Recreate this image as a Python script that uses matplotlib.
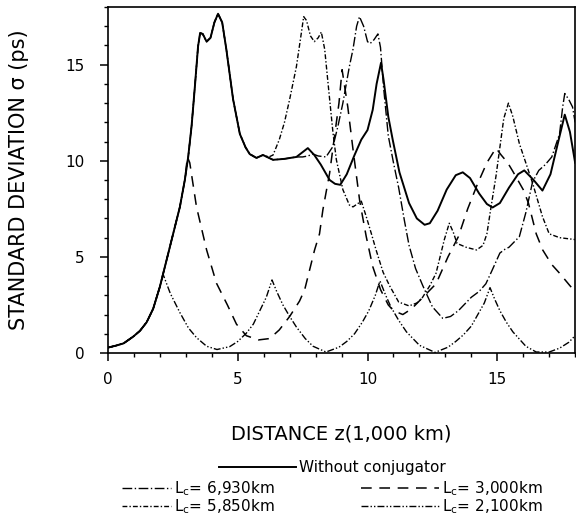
import numpy as np
import matplotlib
matplotlib.use("Agg")
import matplotlib.pyplot as plt

# values (z in 1,000 km, sigma in ps)
# without conjugator
z_solid = [0, 0.3, 0.6, 0.97, 1.23, 1.49, 1.74, 2.0, 2.12, 2.26, 2.51, 2.77, 2.96, 3.09, 3.22,
           3.35, 3.47, 3.55, 3.65, 3.8, 3.95, 4.1, 4.24, 4.4, 4.56, 4.82, 5.08, 5.3, 5.46,
           5.72, 5.97, 6.36, 6.8, 7.26, 7.5, 7.7, 7.95, 8.2, 8.54, 8.75, 8.95, 9.2, 9.5, 9.76,
           10.0, 10.2, 10.35, 10.52, 10.62, 10.8, 10.97, 11.23, 11.6, 11.9, 12.2, 12.4, 12.7,
           13.05, 13.4, 13.67, 13.95, 14.3, 14.6, 14.82, 15.1, 15.45, 15.8, 16.04, 16.4,
           16.74, 17.05, 17.35, 17.6, 17.8, 18.0]
s_solid = [0.28, 0.38, 0.5, 0.85, 1.15, 1.6, 2.3, 3.45, 4.1, 4.85, 6.2, 7.6, 9.0, 10.2, 11.8,
           13.9, 15.95, 16.65, 16.6, 16.2, 16.4, 17.2, 17.65, 17.2, 15.8, 13.2, 11.4, 10.7, 10.35,
           10.15, 10.3, 10.05, 10.1, 10.2, 10.45, 10.66, 10.3, 9.8, 9.0, 8.8, 8.75, 9.3, 10.3, 11.1,
           11.6, 12.65, 14.0, 15.1, 14.2, 12.3, 11.1, 9.4, 7.8, 7.0, 6.67, 6.75, 7.4,
           8.5, 9.25, 9.4, 9.1, 8.3, 7.75, 7.57, 7.8, 8.6, 9.3, 9.5, 9.0,
           8.45, 9.3, 11.0, 12.4, 11.5, 9.9]

# Lc = 6,930 km, after it leaves the solid curve
z_6930 = [7.5, 7.7, 7.9, 8.1, 8.4, 8.67, 8.86, 9.05, 9.3, 9.44, 9.58, 9.69, 9.85, 10.0, 10.1,
          10.25, 10.4, 10.5, 10.62, 10.8, 11.0, 11.2, 11.42, 11.6, 11.85, 12.13, 12.5, 12.9,
          13.2, 13.5, 14.0, 14.3, 14.56, 14.8, 15.1, 15.3, 15.45, 15.85, 16.1, 16.36, 16.6,
          16.85, 17.1, 17.4, 17.52, 17.6, 17.75, 17.9, 18.0]
s_6930 = [10.2, 10.25, 10.35, 10.25, 10.2, 10.75, 11.8, 13.0, 14.9, 15.8, 17.0, 17.5, 17.0, 16.2, 16.1,
          16.3, 16.6, 15.9, 13.8, 11.3, 9.9, 8.6, 6.9, 5.6, 4.4, 3.5, 2.4, 1.8,
          1.9, 2.2, 2.9, 3.2, 3.6, 4.3, 5.2, 5.4, 5.5, 6.05, 7.3, 8.9, 9.5,
          9.8, 10.2, 11.4, 12.8, 13.5, 13.2, 12.8, 12.0]

# Lc = 5,850 km, after it leaves the solid curve
z_5850 = [6.2, 6.36, 6.6, 6.8, 7.0, 7.26, 7.45, 7.54, 7.65, 7.8, 7.95, 8.1, 8.22, 8.35, 8.54,
          8.67, 8.8, 9.05, 9.3, 9.44, 9.6, 9.76, 9.95, 10.15, 10.33, 10.6, 10.85, 11.2, 11.6,
          11.9, 12.1, 12.4, 12.64, 12.96, 13.15, 13.3, 13.45, 13.8, 14.2, 14.45, 14.6, 14.76,
          14.95, 15.1, 15.25, 15.43, 15.6, 15.85, 16.36, 16.74, 17.0, 17.4, 18.0]
s_5850 = [10.2, 10.3, 11.1, 12.0, 13.2, 14.9, 16.65, 17.5, 17.3, 16.5, 16.2, 16.4, 16.7, 15.8, 13.2,
          11.45, 10.05, 8.5, 7.7, 7.6, 7.75, 7.9, 7.1, 6.2, 5.36, 4.2, 3.5, 2.65, 2.45,
          2.6, 2.85, 3.5, 4.15, 5.9, 6.75, 6.3, 5.7, 5.5, 5.36, 5.6, 6.2, 7.6,
          9.2, 10.7, 12.2, 13.0, 12.3, 10.9, 8.84, 7.1, 6.2, 6.0, 5.9]

# Lc = 3,000 km, after it leaves the solid curve
z_3000 = [3.06, 3.15, 3.41, 3.8, 4.18, 4.6, 4.95, 5.33, 5.8, 6.23, 6.6, 7.0, 7.38, 7.58,
          7.96, 8.15, 8.28, 8.54, 8.75, 8.9, 9.02, 9.24, 9.44, 9.7, 9.95, 10.2, 10.5, 10.8,
          11.0, 11.36, 11.7, 12.1, 12.64, 13.1, 13.5, 13.86, 14.24, 14.6, 14.95, 15.15,
          15.4, 15.6, 16.0, 16.2, 16.5, 16.75, 17.1, 17.4, 17.8, 18.0]
s_3000 = [10.2, 9.9, 7.6, 5.36, 3.63, 2.5, 1.5, 0.9, 0.68, 0.75, 1.2, 1.9, 2.7, 3.3,
          5.36, 6.2, 7.45, 9.36, 11.5, 13.0, 14.74, 12.8, 10.6, 7.9, 6.06, 4.5, 3.3, 2.5,
          2.2, 2.0, 2.3, 2.85, 3.6, 5.0, 6.05, 7.5, 8.8, 9.9, 10.66, 10.3,
          9.9, 9.45, 8.5, 7.8, 6.2, 5.36, 4.6, 4.15, 3.5, 3.2]

# Lc = 2,100 km, after it leaves the solid curve
z_2100 = [2.12, 2.4, 2.77, 3.1, 3.41, 3.8, 4.2, 4.69, 5.0, 5.33, 5.6, 5.85, 6.1, 6.32, 6.5,
          6.74, 7.0, 7.26, 7.6, 7.9, 8.4, 8.9, 9.2, 9.5, 9.8, 10.05, 10.3, 10.48, 10.7, 10.9,
          11.2, 11.5, 12.0, 12.6, 13.1, 13.4, 13.7, 14.0, 14.25, 14.5, 14.72, 14.9, 15.1,
          15.35, 15.6, 16.1, 16.5, 17.0, 17.4, 17.75, 18.0]
s_2100 = [4.1, 3.1, 2.1, 1.3, 0.8, 0.35, 0.18, 0.33, 0.6, 1.03, 1.5, 2.2, 2.9, 3.8, 3.2,
          2.5, 1.9, 1.35, 0.75, 0.35, 0.05, 0.3, 0.6, 1.0, 1.6, 2.2, 3.0, 3.75, 3.0, 2.4,
          1.7, 1.1, 0.4, 0.03, 0.3, 0.6, 0.95, 1.4, 2.0, 2.6, 3.4, 2.8, 2.2,
          1.6, 1.1, 0.35, 0.05, 0.05, 0.25, 0.55, 0.9]


def with_start(z_after, s_after):
    # every conjugator curve runs on the solid one until it leaves it
    zs = [z for z in z_solid if z < z_after[0]]
    ss = s_solid[:len(zs)]
    return zs + z_after, ss + s_after


fig = plt.figure(figsize=(5.76, 5.21), dpi=100)
ax = fig.add_axes([0.1875, 0.3225, 0.811, 0.664])

l_6930, = ax.plot(*with_start(z_6930, s_6930), color="black", lw=1.0, ls=(0, (7, 1.8, 1, 1.8)))
l_5850, = ax.plot(*with_start(z_5850, s_5850), color="black", lw=1.0, ls=(0, (3.5, 1.5, 1, 1.5)))
l_3000, = ax.plot(*with_start(z_3000, s_3000), color="black", lw=1.1, ls=(0, (7, 5)))
l_2100, = ax.plot(*with_start(z_2100, s_2100), color="black", lw=1.0, ls=(0, (5, 1.5, 1, 1.5, 1, 1.5)))
l_solid, = ax.plot(z_solid, s_solid, color="black", lw=1.4, ls="-")

ax.set_xlim(0, 18)
ax.set_ylim(0, 18)
ax.set_xticks([0, 5, 10, 15])
ax.set_yticks([0, 5, 10, 15])
ax.set_xticks(np.arange(0, 19, 1), minor=True)
ax.set_yticks(np.arange(0, 19, 1), minor=True)
ax.tick_params(which="major", direction="out", length=6, width=1.1, labelsize=11, pad=8)
ax.tick_params(which="minor", direction="out", length=3, width=1.0)
ax.tick_params(axis="y", which="major", pad=11)
for sp in ax.spines.values():
    sp.set_linewidth(1.2)

ax.set_ylabel("STANDARD DEVIATION σ (ps)", fontsize=15, labelpad=26)
ax.set_xlabel("DISTANCE z(1,000 km)", fontsize=14, labelpad=27)

fig.legend([l_solid], ["Without conjugator"], loc="center",
           bbox_to_anchor=(0.577, 0.102), frameon=False, fontsize=11,
           handlelength=5.0, handletextpad=0.2, borderpad=0)
fig.legend([l_6930, l_5850], [r"L$_\mathregular{c}$= 6,930km", r"L$_\mathregular{c}$= 5,850km"],
           loc="center", bbox_to_anchor=(0.344, 0.045), frameon=False, fontsize=11,
           handlelength=3.2, handletextpad=0.2, labelspacing=0.0, borderpad=0)
fig.legend([l_3000, l_2100], [r"L$_\mathregular{c}$= 3,000km", r"L$_\mathregular{c}$= 2,100km"],
           loc="center", bbox_to_anchor=(0.785, 0.045), frameon=False, fontsize=11,
           handlelength=5.1, handletextpad=0.2, labelspacing=0.0, borderpad=0)

fig.savefig("out.png", dpi=100)
